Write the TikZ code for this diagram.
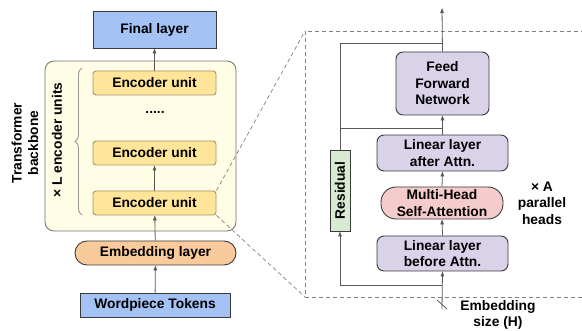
\documentclass[tikz,border=0pt]{standalone}
\usepackage{fontspec}
\setmainfont{Liberation Sans}
\usetikzlibrary{arrows.meta,decorations.pathreplacing}
\definecolor{bluef}{HTML}{A4C2F4}
\definecolor{encf}{HTML}{FFE599}
\definecolor{encd}{HTML}{A8956A}
\definecolor{backf}{HTML}{FFFDE6}
\definecolor{backd}{HTML}{707070}
\definecolor{embf}{HTML}{F9CB9C}
\definecolor{lavf}{HTML}{D9D2E9}
\definecolor{pinkf}{HTML}{F4CCCC}
\definecolor{greenf}{HTML}{D9EAD3}
\definecolor{linec}{HTML}{595959}
\definecolor{bordc}{HTML}{3A3A3A}
\tikzset{
  txt/.style={font=\fontsize{13.8}{16.5}\selectfont\bfseries, align=center, inner sep=0pt},
  box/.style={txt, draw=bordc, line width=0.9pt},
  bluebox/.style={box, fill=bluef},
  encbox/.style={box, fill=encf, draw=encd, rounded corners=3pt, minimum width=123pt, minimum height=24pt},
  lavbox/.style={box, fill=lavf, rounded corners=7pt},
  conn/.style={draw=linec, line width=0.8pt},
  arr/.style={conn, -{Triangle[length=5pt,width=3.5pt]}},
  dashln/.style={draw=gray, line width=0.7pt, dash pattern=on 4pt off 3pt},
}
\begin{document}
\begin{tikzpicture}[x=1pt,y=-1pt]
\useasboundingbox (0,0) rectangle (582,331);
% backbone
\node[draw=backd, fill=backf, line width=0.8pt, rounded corners=9pt, minimum width=191pt, minimum height=170pt, inner sep=0pt] (back) at (140.5,146) {};
\node[bluebox, minimum width=123pt, minimum height=37pt] (final) at (154.5,29.5) {Final layer};
\node[encbox] (enc1) at (154.5,83) {Encoder unit};
\node[txt] (dots) at (155,112) {.....};
\node[encbox] (enc2) at (154.5,153) {Encoder unit};
\node[encbox] (enc3) at (154.5,203) {Encoder unit};
\node[box, fill=embf, rounded corners=12pt, minimum width=161pt, minimum height=24pt] (emb) at (155.5,253) {Embedding layer};
\node[bluebox, minimum width=150pt, minimum height=24pt] (word) at (155,305) {Wordpiece Tokens};
\coordinate (bt) at (82,68);
\coordinate (bb) at (82,215);
\draw[draw=gray!80, line width=0.9pt, decorate, decoration={brace, amplitude=7pt}] (bb) -- (bt);
\node[txt, rotate=90] (lbl) at (57,140) {× L encoder units};
\node[txt, rotate=90] (tb) at (25,143) {Transformer\\backbone};
\draw[arr] (word) -- (emb);
\draw[arr] (emb) -- (enc3);
\draw[arr] (enc3) -- (enc2);
\draw[arr] (enc1) -- (final);
% frame
\coordinate (ftl) at (305,31);
\coordinate (fbl) at (305,297);
\coordinate (ftr) at (585,31);
\coordinate (fbr) at (585,297);
\draw[dashln] (ftr) -- (ftl) -- (fbl) -- (fbr);
\draw[dashln] (enc3.north east) -- (ftl);
\draw[dashln] (enc3.south east) -- (fbl);
% right side
\node[lavbox, minimum width=93pt, minimum height=63pt] (ffn) at (442.5,83.5) {Feed\\Forward\\Network};
\node[lavbox, minimum width=131pt, minimum height=36pt] (lin2) at (442.5,153) {Linear layer\\after Attn.};
\node[box, fill=pinkf, rounded corners=15pt, minimum width=122pt, minimum height=32pt] (mhsa) at (442,203) {Multi-Head\\Self-Attention};
\node[lavbox, minimum width=131pt, minimum height=35pt] (lin1) at (442.5,253.5) {Linear layer\\before Attn.};
\node[box, fill=greenf, minimum width=20pt, minimum height=81pt] (res) at (340,190.5) {};
\node[txt, rotate=90] (restxt) at (res.center) {Residual};
\coordinate (in) at (442,309);
\coordinate (split) at (442,285);
\coordinate (join) at (442,128);
\coordinate (rj) at (340,128);
\coordinate (rt) at (340,43);
\coordinate (ot) at (442,43);
\coordinate (out) at (442,8);
\draw[arr] (in) -- (lin1.south);
\draw[arr] (split) -| (res.south);
\draw[arr] (lin1.north) -- (mhsa.south);
\draw[arr] (mhsa.north) -- (lin2.south);
\draw[arr] (lin2.north) -- (ffn.south);
\draw[conn] (res.north) -- (rt) -- (ot);
\draw[conn] (rj) -- (join);
\draw[arr] (ffn.north) -- (out);
\coordinate (s1) at (437,300);
\coordinate (s2) at (447,309);
\draw[conn] (s1) -- (s2);
\node[txt] (heads) at (542,203) {× A\\parallel\\heads};
\node[txt] (esize) at (498,315) {Embedding\\size (H)};
\end{tikzpicture}
\end{document}
